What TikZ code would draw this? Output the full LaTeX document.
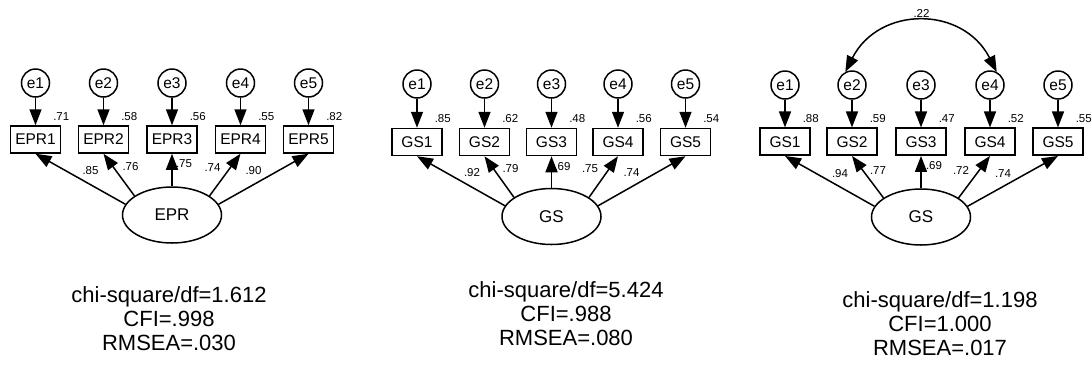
\documentclass[tikz,border=0pt]{standalone}
\usepackage{fontspec}
\setmainfont{Liberation Sans}
\usetikzlibrary{arrows.meta,shapes.geometric}
\begin{document}
\begin{tikzpicture}[x=1pt,y=-1pt,
  err/.style={circle,draw,line width=1.5pt,minimum size=28pt,inner sep=0pt,
    font=\fontsize{15.5}{15.5}\selectfont},
  obs/.style={rectangle,draw,line width=1.5pt,minimum width=50pt,minimum height=27pt,
    inner sep=0pt,font=\fontsize{15.5}{15.5}\selectfont},
  lat/.style={ellipse,draw,line width=1.5pt,minimum width=99pt,minimum height=56pt,
    inner sep=0pt,font=\fontsize{17}{17}\selectfont},
  reg/.style={line width=1.5pt,-{Triangle[length=16pt,width=12pt]}},
  cov/.style={line width=1.5pt,{Triangle[length=16pt,width=12pt]}-{Triangle[length=16pt,width=12pt]}},
  coef/.style={font=\fontsize{11.5}{11.5}\selectfont,inner sep=0pt},
  fitstats/.style={align=center,font=\fontsize{22}{24}\selectfont}
]
\useasboundingbox (0,0) rectangle (1092,365);

% ---------- Model A: EPR ----------
\node[lat] (a-f) at (172,215) {EPR};
\foreach \i/\x/\r in {1/35.5/.71, 2/103.5/.58, 3/172/.56, 4/240.5/.55, 5/308.5/.82} {
  \node[err] (a-e\i) at (\x,83) {e\i};
  \node[obs] (a-v\i) at (\x,139.5) {EPR\i};
  \node[coef] at ([yshift=9pt]a-v\i.north east) {\r};
  \draw[reg] (a-e\i) -- (a-v\i);
}
\foreach \i/\a/\l/\dx/\dy in {1/167/.85/55/17, 2/153/.76/27/13, 3/90/.75/12/10,
                              4/27/.74/-28/14, 5/13/.90/-55/17} {
  \draw[reg] (a-f.\a) -- (a-v\i.south);
  \node[coef] at ([xshift=\dx pt,yshift=-\dy pt]a-v\i.south) {\l};
}
\node[fitstats] (a-fit) at (169,319) {chi-square/df=1.612\\CFI=.998\\RMSEA=.030};

% ---------- Model B: GS ----------
\node[lat] (b-f) at (551.5,216.5) {GS};
\foreach \i/\x/\r in {1/417/.85, 2/484.5/.62, 3/551.5/.48, 4/618/.56, 5/685.5/.54} {
  \node[err] (b-e\i) at (\x,84) {e\i};
  \node[obs] (b-v\i) at (\x,142) {GS\i};
  \node[coef] at ([yshift=9pt]b-v\i.north east) {\r};
  \draw[reg] (b-e\i) -- (b-v\i);
}
\foreach \i/\a/\l/\dx/\dy in {1/167/.92/55/16, 2/153/.79/26/12, 3/90/.69/11/10,
                              4/27/.75/-28/12, 5/13/.74/-54/16} {
  \draw[reg] (b-f.\a) -- (b-v\i.south);
  \node[coef] at ([xshift=\dx pt,yshift=-\dy pt]b-v\i.south) {\l};
}
\node[fitstats] (b-fit) at (566,314) {chi-square/df=5.424\\CFI=.988\\RMSEA=.080};

% ---------- Model C: GS with correlated errors ----------
\node[lat] (c-f) at (921,217) {GS};
\foreach \i/\x/\r in {1/785/.88, 2/852/.59, 3/921/.47, 4/990/.52, 5/1058/.55} {
  \node[err] (c-e\i) at (\x,85) {e\i};
  \node[obs] (c-v\i) at (\x,141.7) {GS\i};
  \node[coef] at ([yshift=9pt]c-v\i.north east) {\r};
  \draw[reg] (c-e\i) -- (c-v\i);
}
\foreach \i/\a/\l/\dx/\dy in {1/167/.94/55/18, 2/153/.77/26/15, 3/90/.69/13/10,
                              4/27/.72/-29/15, 5/13/.74/-55/18} {
  \draw[reg] (c-f.\a) -- (c-v\i.south);
  \node[coef] at ([xshift=\dx pt,yshift=-\dy pt]c-v\i.south) {\l};
}
\draw[cov] (c-e2.117) to[out=63,in=117,looseness=1.26] (c-e4.63);
\node[coef] (c-r24) at (921.5,13.5) {.22};
\node[fitstats] (c-fit) at (940,324) {chi-square/df=1.198\\CFI=1.000\\RMSEA=.017};
\end{tikzpicture}
\end{document}
